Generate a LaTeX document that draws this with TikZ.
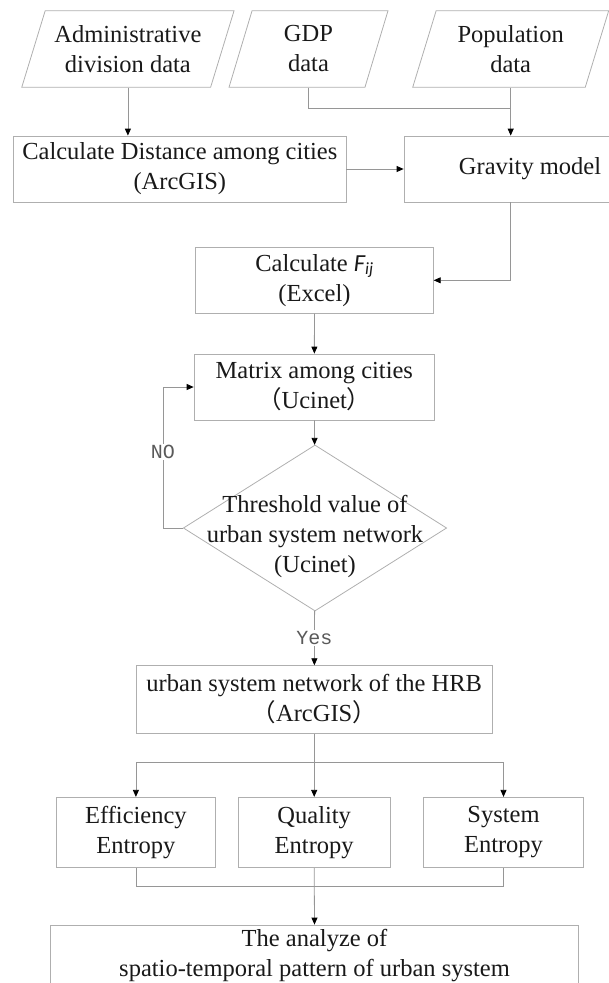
\documentclass[tikz,border=0pt]{standalone}
\usepackage{fontspec}
\setmainfont{Liberation Serif}
\newfontfamily\cjk{Noto Sans CJK SC}
\newfontfamily\calib{Carlito}
\newfontfamily\lbl{Liberation Mono}
\usetikzlibrary{shapes.geometric}
\usetikzlibrary{arrows.meta}
\usetikzlibrary{calc}
\definecolor{boxgray}{RGB}{175,175,175}
\definecolor{wiregray}{RGB}{150,150,150}
\definecolor{lblgray}{RGB}{90,90,90}
\newcommand{\fwl}{{\cjk （}}
\newcommand{\fwr}{{\cjk ）}}

\begin{document}
\begin{tikzpicture}[x=1pt, y=-1pt,
  font=\fontsize{24.5}{30}\selectfont,
  every node/.style={align=center, text=black!90, inner sep=0pt},
  databox/.style={trapezium, trapezium left angle=63.6, trapezium right angle=116.4,
    trapezium stretches body, draw=boxgray, line width=.8pt, minimum height=76.6pt},
  procbox/.style={rectangle, draw=boxgray, line width=.8pt},
  decision/.style={diamond, draw=boxgray, line width=.8pt, minimum width=263.4pt, minimum height=166pt},
  wire/.style={draw=wiregray, line width=.8pt},
  arr/.style={wire, -{Triangle[length=7pt,width=6pt,black]}},
  yesno/.style={font=\lbl\fontsize{20}{20}\selectfont, text=lblgray, fill=white, inner sep=1.5pt}]
\useasboundingbox (0,0) rectangle (609,983);
% input data
\node[databox, minimum width=212.3pt] (adm) at (127.9,49) {Administrative\\division data};
\node[databox, minimum width=159pt] (gdp) at (308.5,49) {GDP\\data};
\node[databox, minimum width=196pt] (pop) at (510.7,49) {Population\\data};
% processing
\node[procbox, minimum width=332.4pt, minimum height=66pt] (dist) at (179.8,169) {Calculate Distance among cities\\(ArcGIS)};
\node[procbox, minimum width=252pt, minimum height=66pt] (grav) at (530,169) {Gravity model};
\node[procbox, minimum width=237.6pt, minimum height=66pt] (fij) at (314.5,280.3) {Calculate {\calib\itshape F\textsubscript{ij}}\\(Excel)};
\node[procbox, minimum width=240.5pt, minimum height=66pt] (mat) at (314.3,387) {Matrix among cities\\\fwl Ucinet\fwr};
\node[decision] (thr) at (315,528) {};
\node[yshift=-8.5pt] (thrtxt) at (thr.center) {Threshold value of\\urban system network\\(Ucinet)};
\node[procbox, minimum width=356.4pt, minimum height=67.6pt] (hrb) at (314.2,699.5) {urban system network of the HRB\\\fwl ArcGIS\fwr};
% entropies
\node[procbox, minimum width=159.2pt, minimum height=70.4pt] (eff) at (135.9,832.5) {Efficiency\\Entropy};
\node[procbox, minimum width=152.3pt, minimum height=70.4pt] (qua) at (314.2,832.5) {Quality\\Entropy};
\node[procbox, minimum width=160.4pt, minimum height=70.4pt] (sys) at (503.5,832.5) {System\\Entropy};
\node[procbox, minimum width=528.1pt, minimum height=62pt] (ana) at (314.5,956) {The analyze of\\spatio-temporal pattern of urban system};
% connectors
\coordinate (gjn) at (510.7,108.7);
\coordinate (split) at (314.2,762);
\coordinate (mrg) at (314.2,886.7);
\draw[arr] (adm.center |- adm.south) -- (adm.center |- dist.north);
\draw[wire] (gdp.center |- gdp.south) |- (gjn);
\draw[arr] (pop.center |- pop.south) -- (pop.center |- grav.north);
\draw[arr] (dist.east) -- (grav.west);
\draw[arr] (pop.center |- grav.south) |- (fij.east);
\draw[arr] (fij) -- (mat);
\draw[arr] (mat) -- (thr);
\draw[arr] (thr.west) -- ++(-20,0) |- node[yesno, pos=.27] {NO} (mat.west);
\draw[arr] (thr) -- node[yesno] {Yes} (hrb);
\draw[wire] (hrb) -- (split);
\draw[arr] (split) -| (eff.north);
\draw[arr] (split) -- (qua.north);
\draw[arr] (split) -| (sys.north);
\draw[wire] (eff.south) |- (mrg) -| (sys.south);
\draw[arr] (qua.south) -- (ana.north);
\end{tikzpicture}
\end{document}
